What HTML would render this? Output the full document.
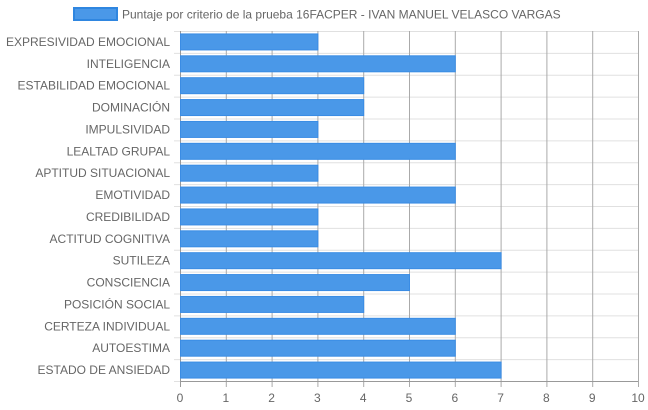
<!DOCTYPE html>
<html><head><meta charset="utf-8"><style>
html,body{margin:0;padding:0;background:#fff;width:648px;height:410px;overflow:hidden}
svg text{font-family:"Liberation Sans",Arial,sans-serif;fill:#666;font-size:12px}
</style></head><body>
<svg id="chart" width="648" height="410">
<g>
<rect x="74" y="8" width="43" height="12" fill="#4a98e8" stroke="#2f86e0" stroke-width="2"/>
<text x="122" y="18.5">Puntaje por criterio de la prueba 16FACPER - IVAN MANUEL VELASCO VARGAS</text>
</g>
<g id="grid"></g><g id="bars"></g><g id="labels"></g>
</svg>
<script>
const categories=["EXPRESIVIDAD EMOCIONAL","INTELIGENCIA","ESTABILIDAD EMOCIONAL","DOMINACIÓN","IMPULSIVIDAD","LEALTAD GRUPAL","APTITUD SITUACIONAL","EMOTIVIDAD","CREDIBILIDAD","ACTITUD COGNITIVA","SUTILEZA","CONSCIENCIA","POSICIÓN SOCIAL","CERTEZA INDIVIDUAL","AUTOESTIMA","ESTADO DE ANSIEDAD"];
const values=[3,6,4,4,3,6,3,6,3,3,7,5,4,6,6,7];
const xTicks=[0,1,2,3,4,5,6,7,8,9,10];
const NS="http://www.w3.org/2000/svg";
const L=180,R=638,T=31,B=381,xMax=10;
const x=v=>L+(R-L)*v/xMax;
const rowH=(B-T)/categories.length;
const y=i=>T+rowH*i;
function mk(tag,attrs,parent){const e=document.createElementNS(NS,tag);for(const k in attrs)e.setAttribute(k,attrs[k]);document.getElementById(parent).appendChild(e);return e;}
for(let i=0;i<=categories.length;i++){
 const l=mk('line',{x1:L-6,x2:R,y1:y(i)+0.5,y2:y(i)+0.5,stroke:'#e0e0e0'},'grid');
 
 
}
xTicks.forEach(t=>{
 const l=mk('line',{x1:x(t)+0.5,x2:x(t)+0.5,y1:T,y2:B+6,stroke:t===0?'#999':'#aaa'},'grid');
 
 
 const tx=mk('text',{x:x(t),y:B+21,'text-anchor':'middle'},'labels');
 tx.textContent=t;
 
 
});
const bl=mk('line',{x1:L,x2:R,y1:B+0.5,y2:B+0.5,stroke:'#999'},'grid');


categories.forEach((c,i)=>{
 const bh=16,by=y(i)+(rowH-bh)/2;
 const r=mk('rect',{x:x(0)+0.5,y:by,width:x(values[i])-x(0),height:bh,fill:'#4a98e8',stroke:'#3a8ce4','stroke-width':1},'bars');
 
 
 const t=mk('text',{x:170,y:y(i)+rowH/2+4,'text-anchor':'end'},'labels');
 t.textContent=c;
 
 
});
</script>
</body></html>
